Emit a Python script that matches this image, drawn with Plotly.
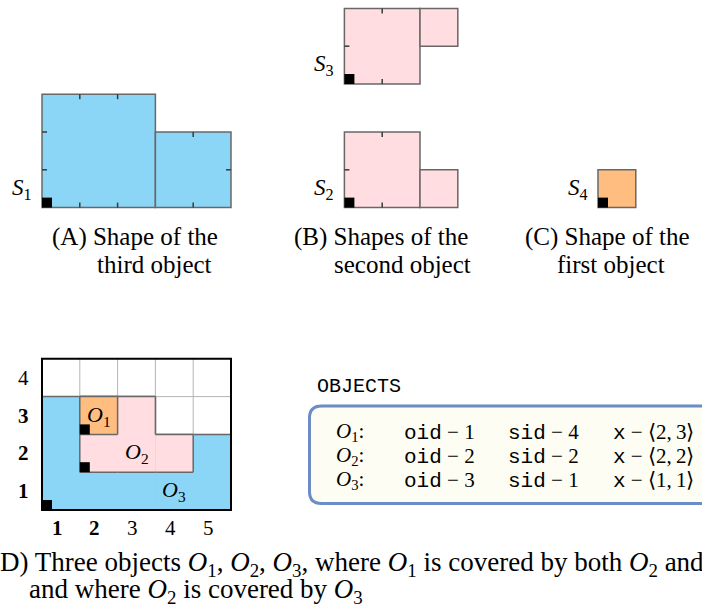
import plotly.graph_objects as go

# ---------------- data ----------------
shape_ids = ["S1", "S2", "S3", "S4"]
shape_boxes = {            # boxes of each shape: [x, y, width, height] in grid units
    "S1": [[0, 0, 3, 3], [3, 0, 2, 2]],
    "S2": [[0, 0, 2, 2], [2, 0, 1, 1]],
    "S3": [[0, 0, 2, 2], [2, 1, 1, 1]],
    "S4": [[0, 0, 1, 1]],
}
shape_colors = {"S1": "#8bd6f6", "S2": "#ffdde1", "S3": "#ffdde1", "S4": "#ffbe80"}

object_names = ["O1", "O2", "O3"]
object_oid = [1, 2, 3]
object_sid = [4, 2, 1]
object_x = [2, 2, 1]
object_y = [3, 2, 1]
object_label_x = [1.5, 2.5, 3.5]
object_label_y = [2.5, 1.5, 0.5]

grid_cols = [1, 2, 3, 4, 5]
grid_rows = [1, 2, 3, 4]

caption_lines = {
    "A": ["(A) Shape of the", "third object"],
    "B": ["(B) Shapes of the", "second object"],
    "C": ["(C) Shape of the", "first object"],
}
caption_D = [
    "(D) Three objects <i>O</i><sub>1</sub>, <i>O</i><sub>2</sub>, <i>O</i><sub>3</sub>, "
    "where <i>O</i><sub>1</sub> is covered by both <i>O</i><sub>2</sub> and <i>O</i><sub>3</sub>",
    "and where <i>O</i><sub>2</sub> is covered by <i>O</i><sub>3</sub>",
]

# ---------------- layout constants ----------------
W, H = 702, 612
U = 37.8                    # pixels per grid unit
OX, OY = 42, 510            # pixel position of panel D origin


def X(px):
    return (px - OX) / U


def Y(py):
    return (OY - py) / U


SERIF = "Liberation Serif"
MONO = "Liberation Mono"
OUTLINE = "#686868"
TICK = 5 / U
SQ = 10 / U

# panel origins (grid units) for the shapes in panels A-C
panel_origin = {"S1": (0, 8), "S3": (8, Y(84)), "S2": (8, 8), "S4": (X(598), 8)}

shapes = []
annotations = []


def rect(x0, y0, x1, y1, fill=None, color=None, width=0):
    shapes.append(dict(type="rect", xref="x", yref="y", x0=x0, y0=y0, x1=x1, y1=y1,
                       fillcolor=fill if fill else "rgba(0,0,0,0)",
                       line=dict(color=color if color else "rgba(0,0,0,0)", width=width),
                       layer="above"))


def seg(x0, y0, x1, y1, color, width):
    shapes.append(dict(type="line", xref="x", yref="y", x0=x0, y0=y0, x1=x1, y1=y1,
                       line=dict(color=color, width=width), layer="above"))


def in_box(px, py, b):
    return b[0] <= px <= b[0] + b[2] and b[1] <= py <= b[1] + b[3]


# ---------------- panels A-C ----------------
for sid in shape_ids:
    ox, oy = panel_origin[sid]
    boxes = shape_boxes[sid]
    for b in boxes:
        rect(ox + b[0], oy + b[1], ox + b[0] + b[2], oy + b[1] + b[3],
             fill=shape_colors[sid], color=OUTLINE, width=1.5)
    # inward ticks on the outer boundary
    for i, b in enumerate(boxes):
        others = [o for j, o in enumerate(boxes) if j != i]
        bx, by, bw, bh = b
        pts = []
        for k in range(1, bw):
            pts.append((bx + k, by, 0, 1))
            pts.append((bx + k, by + bh, 0, -1))
        for k in range(1, bh):
            pts.append((bx, by + k, 1, 0))
            pts.append((bx + bw, by + k, -1, 0))
        for px, py, dx, dy in pts:
            if any(in_box(px, py, o) for o in others):
                continue
            seg(ox + px, oy + py, ox + px + dx * TICK, oy + py + dy * TICK, "#3a3a3a", 1.5)
    rect(ox, oy, ox + SQ, oy + SQ, fill="black")
    annotations.append(dict(x=ox - 8 / U, y=oy + 0.5, xref="x", yref="y",
                            text="<i>S</i><sub>%s</sub>" % sid[1:], showarrow=False,
                            xanchor="right", yanchor="middle",
                            font=dict(family=SERIF, size=23, color="black")))

# ---------------- panel D ----------------
ncol, nrow = len(grid_cols), len(grid_rows)
for i in range(1, ncol):
    seg(i, 0, i, nrow, "#b4b4b4", 1)
for j in range(1, nrow):
    seg(0, j, ncol, j, "#b4b4b4", 1)

order = sorted(range(len(object_names)), key=lambda k: -object_oid[k])
for k in order:
    sid = "S%d" % object_sid[k]
    ox, oy = object_x[k] - 1, object_y[k] - 1
    boxes = shape_boxes[sid]
    for b in boxes:
        rect(ox + b[0], oy + b[1], ox + b[0] + b[2], oy + b[1] + b[3], fill=shape_colors[sid])
    # union outline: unit segments used by exactly one box
    count = {}
    for b in boxes:
        bx, by, bw, bh = b
        for t in range(bw):
            for yy in (by, by + bh):
                key = ("h", bx + t, yy)
                count[key] = count.get(key, 0) + 1
        for t in range(bh):
            for xx in (bx, bx + bw):
                key = ("v", xx, by + t)
                count[key] = count.get(key, 0) + 1
    for (d, a, c), n in count.items():
        if n != 1:
            continue
        if d == "h":
            seg(ox + a, oy + c, ox + a + 1, oy + c, OUTLINE, 1.5)
        else:
            seg(ox + a, oy + c, ox + a, oy + c + 1, OUTLINE, 1.5)

rect(0, 0, ncol, nrow, color="black", width=2)
for k in range(len(object_names)):
    ox, oy = object_x[k] - 1, object_y[k] - 1
    rect(ox, oy, ox + SQ, oy + SQ, fill="black")
    annotations.append(dict(x=object_label_x[k], y=object_label_y[k], xref="x", yref="y",
                            text="<i>O</i><sub>%s</sub>" % object_names[k][1:], showarrow=False,
                            xanchor="center", yanchor="middle",
                            font=dict(family=SERIF, size=22, color="black")))

for c in grid_cols:
    t = str(c)
    if c in object_x:
        t = "<b>%s</b>" % t
    annotations.append(dict(x=c - 0.6, y=Y(528), xref="x", yref="y", text=t, showarrow=False,
                            xanchor="center", yanchor="middle",
                            font=dict(family=SERIF, size=21, color="black")))
for r in grid_rows:
    t = str(r)
    if r in object_y:
        t = "<b>%s</b>" % t
    annotations.append(dict(x=X(23), y=r - 0.5, xref="x", yref="y", text=t, showarrow=False,
                            xanchor="center", yanchor="middle",
                            font=dict(family=SERIF, size=21, color="black")))

# ---------------- OBJECTS box ----------------
L, R, T, B = X(309.5), X(760), Y(406), Y(503.5)
rr = 12 / U
path = ("M %f,%f L %f,%f L %f,%f L %f,%f Q %f,%f %f,%f L %f,%f Q %f,%f %f,%f Z" %
        (L + rr, T, R, T, R, B, L + rr, B, L, B, L, B + rr, L, T - rr, L, T, L + rr, T))
shapes.append(dict(type="path", xref="x", yref="y", path=path, fillcolor="#fdfdf3",
                   line=dict(color="#6b8cc5", width=3), layer="above"))


def pa(px, py, text, size, family=SERIF, xanchor="left"):
    annotations.append(dict(x=px / W, y=1 - py / H, xref="paper", yref="paper", text=text,
                            showarrow=False, xanchor=xanchor, yanchor="middle",
                            font=dict(family=family, size=size, color="black")))


pa(315, 386, "OBJECTS", 20, family=MONO)

mono = "<span style=\"font-family:'%s'\">%%s</span>" % MONO
row_y = [432, 456, 480]
for k in range(len(object_names)):
    py = row_y[k]
    pa(334, py, "<i>O</i><sub>%s</sub>:" % object_names[k][1:], 21)
    pa(402, py, (mono % "oid") + " − %d" % object_oid[k], 21)
    pa(506, py, (mono % "sid") + " − %d" % object_sid[k], 21)
    pa(611, py, (mono % "x") + " − ⟨%d,\u2009%d⟩" % (object_x[k], object_y[k]), 21)

# ---------------- captions ----------------
cap_pos = {"A": [(50, 237), (95, 264)], "B": [(292, 237), (332, 264)],
           "C": [(523, 237), (555, 264)]}
for key, lines in caption_lines.items():
    for (px, py), line in zip(cap_pos[key], lines):
        pa(px, py, line, 25)
pa(-11, 564, caption_D[0], 27)
pa(27, 591, caption_D[1], 27)

fig = go.Figure()
fig.add_trace(go.Scatter(x=[], y=[], showlegend=False))
fig.update_layout(
    width=W, height=H, autosize=False,
    margin=dict(l=0, r=0, t=0, b=0, pad=0),
    paper_bgcolor="white", plot_bgcolor="white",
    xaxis=dict(range=[X(0), X(W)], visible=False, fixedrange=True),
    yaxis=dict(range=[Y(H), Y(0)], visible=False, fixedrange=True),
    shapes=shapes, annotations=annotations, showlegend=False,
)
fig.write_html("out.html", config={"displayModeBar": False},
               post_script="document.body.style.margin='0';"
                           "document.documentElement.style.overflow='hidden';")
